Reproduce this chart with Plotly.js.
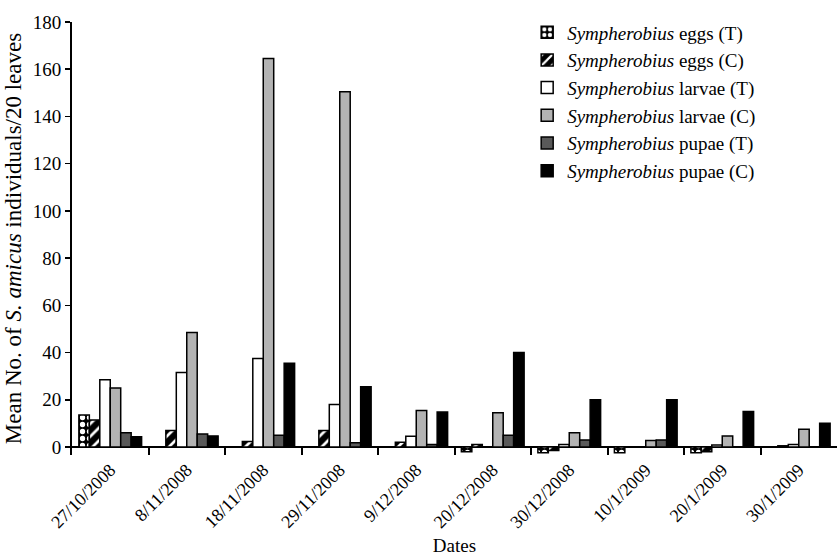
<!DOCTYPE html>
<html>
<head>
<meta charset="utf-8">
<script src="https://cdn.plot.ly/plotly-3.0.1.min.js"></script>
<style>html,body{margin:0;padding:0;background:#fff;}#chart{width:838px;height:556px;}</style>
</head>
<body>
<div id="chart"></div>
<script>
const dates = ["27/10/2008","8/11/2008","18/11/2008","29/11/2008","9/12/2008","20/12/2008","30/12/2008","10/1/2009","20/1/2009","30/1/2009"];
const eggsT   = [13.5, 0, 0, 0, 0, -2, -2.4, -2.4, -2.4, 0];
const eggsC   = [11.4, 7, 2.3, 7, 2, 1, -1.5, 0, -2, 0.5];
const larvaeT = [28.5, 31.5, 37.5, 18, 4.5, 0, 1, 0, 0.8, 1];
const larvaeC = [25, 48.5, 164.5, 150.5, 15.5, 14.5, 6, 2.7, 4.7, 7.5];
const pupaeT  = [6, 5.5, 5, 1.8, 1, 5, 3, 3, 0, 0];
const pupaeC  = [4.3, 4.7, 35.5, 25.5, 14.8, 40, 20, 20, 15, 10];

const line = {color: '#000', width: 1.5};
function bar(name, y, color, pattern) {
  const m = {color: color, line: line};
  if (pattern) m.pattern = pattern;
  return {type: 'bar', x: dates, y: y, name: '<i>Sympherobius</i> ' + name, marker: m};
}
const data = [
  bar('eggs (T)', eggsT, '#000', {shape: '.', bgcolor: '#000', fgcolor: '#fff', size: 7, solidity: 0.45}),
  bar('eggs (C)', eggsC, '#000', {shape: '/', bgcolor: '#000', fgcolor: '#fff', size: 9, solidity: 0.3}),
  bar('larvae (T)', larvaeT, '#fff'),
  bar('larvae (C)', larvaeC, '#b3b3b3'),
  bar('pupae (T)', pupaeT, '#595959'),
  bar('pupae (C)', pupaeC, '#000')
];
const font = {family: 'Liberation Serif, Times New Roman, serif', color: '#000'};
const layout = {
  width: 838, height: 556,
  margin: {l: 72, r: 1, t: 22, b: 101},
  paper_bgcolor: '#fff', plot_bgcolor: '#fff',
  font: Object.assign({size: 18}, font),
  barmode: 'group', bargap: 0.18, bargroupgap: 0,
  showlegend: true,
  legend: {x: 0.595, y: 1.02, xanchor: 'left', yanchor: 'top', font: Object.assign({size: 19}, font), bgcolor: 'rgba(0,0,0,0)'},
  xaxis: {
    type: 'category', tickangle: -45, showline: false,
    ticks: 'inside', tickson: 'boundaries', ticklen: 8, tickwidth: 2, tickcolor: '#000',
    showgrid: false, zeroline: false,
    tickfont: Object.assign({size: 18}, font),
    title: {text: 'Dates', font: Object.assign({size: 19}, font), standoff: 10}
  },
  yaxis: {
    range: [-3.4, 180], tickvals: [0,20,40,60,80,100,120,140,160,180], showline: true, linecolor: '#000', linewidth: 2,
    ticks: 'outside', ticklen: 5, tickwidth: 1.5, tickcolor: '#000',
    showgrid: false, zeroline: true, zerolinecolor: '#000', zerolinewidth: 2,
    tickfont: Object.assign({size: 19}, font),
    title: {text: 'Mean No. of <i>S. amicus</i> individuals/20 leaves', font: Object.assign({size: 23}, font), standoff: 5}
  }
};
Plotly.newPlot('chart', data, layout, {displayModeBar: false, staticPlot: true});
</script>
</body>
</html>
